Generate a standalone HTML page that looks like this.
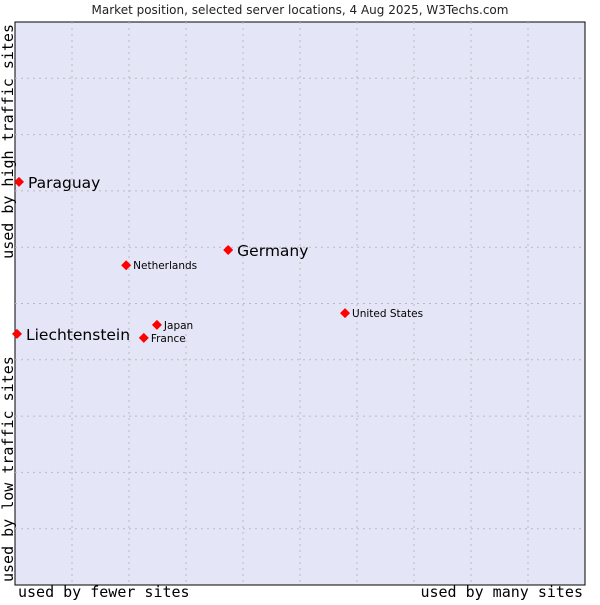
<!DOCTYPE html>
<html><head><meta charset="utf-8"><style>
body{margin:0;background:#fff;width:600px;height:600px;overflow:hidden}
</style></head><body>
<svg id="chart" width="600" height="600" xmlns="http://www.w3.org/2000/svg">
<text x="300" y="14" text-anchor="middle" font-family="DejaVu Sans, sans-serif" font-size="12" fill="#222">Market position, selected server locations, 4 Aug 2025, W3Techs.com</text>
<rect x="15" y="22" width="570" height="563" fill="#e4e6f8" stroke="#000" stroke-width="1"/>
<g id="grid"></g>
<g id="pts"></g>
<text x="18" y="597" font-family="DejaVu Sans Mono, monospace" font-size="15" fill="#000">used by fewer sites</text>
<text x="583" y="597" text-anchor="end" font-family="DejaVu Sans Mono, monospace" font-size="15" fill="#000">used by many sites</text>
<text transform="translate(13,24) rotate(-90)" text-anchor="end" font-family="DejaVu Sans Mono, monospace" font-size="15" fill="#000">used by high traffic sites</text>
<text transform="translate(13,582) rotate(-90)" font-family="DejaVu Sans Mono, monospace" font-size="15" fill="#000">used by low traffic sites</text>
</svg>
<script>
const names=["Paraguay","Germany","Netherlands","United States","Japan","France","Liechtenstein"];
const xVals=[0.7,37.4,19.5,57.9,24.9,22.6,0.35];
const yVals=[71.6,59.5,56.8,48.3,46.2,43.9,44.6];
const big=[true,true,false,false,false,false,true];
const X0=15,W=570,Y0=22,H=563;
const sx=v=>X0+v/100*W, sy=v=>Y0+H-v/100*H;
const NS="http://www.w3.org/2000/svg";
const g=document.getElementById('grid'),p=document.getElementById('pts');
for(let i=1;i<10;i++){
 let l=document.createElementNS(NS,'line');
 
 
 const x=sx(i*10);l.setAttribute('x1',x);l.setAttribute('x2',x);l.setAttribute('y1',Y0);l.setAttribute('y2',Y0+H);
 l.setAttribute('stroke','#bbb');l.setAttribute('stroke-dasharray','2,4');g.appendChild(l);
 let h=document.createElementNS(NS,'line');
 
 
 const y=sy(i*10);h.setAttribute('y1',y);h.setAttribute('y2',y);h.setAttribute('x1',X0);h.setAttribute('x2',X0+W);
 h.setAttribute('stroke','#bbb');h.setAttribute('stroke-dasharray','2,4');g.appendChild(h);
}
names.forEach((n,i)=>{
 const x=sx(xVals[i]),y=sy(yVals[i]);
 const d=document.createElementNS(NS,'polygon');
 
 
 d.setAttribute('points',`${x},${y-5} ${x+5},${y} ${x},${y+5} ${x-5},${y}`);
 d.setAttribute('fill','#f00');p.appendChild(d);
 const t=document.createElementNS(NS,'text');
 
 
 t.setAttribute('x',x+(big[i]?9:7));t.setAttribute('y',y+(big[i]?6:4));
 t.setAttribute('font-family','DejaVu Sans, sans-serif');
 t.setAttribute('font-size',big[i]?15.5:10.5);t.setAttribute('fill','#000');
 t.textContent=n;p.appendChild(t);
});
</script>
</body></html>
